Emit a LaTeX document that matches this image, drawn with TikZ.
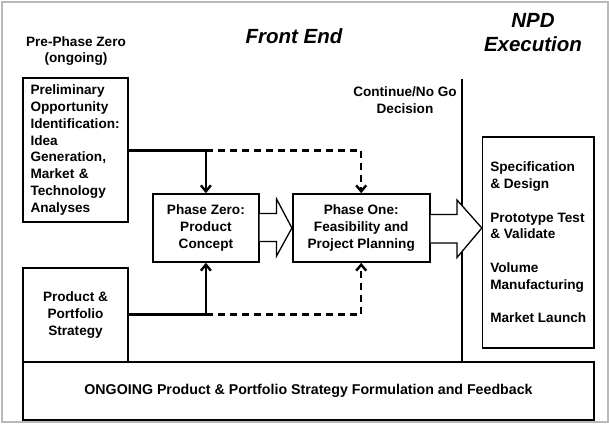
\documentclass[tikz,border=0pt]{standalone}
\usepackage{fontspec}
\setmainfont{Liberation Sans}
\usetikzlibrary{arrows.meta,calc}
\begin{document}
\begin{tikzpicture}[x=1pt,y=-1pt,
  every node/.style={font=\fontsize{13.6}{16.8}\selectfont\bfseries},
  box/.style={draw, line width=1.6pt, inner sep=0pt, align=center},
  lbox/.style={draw, line width=1.6pt, inner xsep=7.5pt, inner ysep=0pt, align=left},
  head/.style={font=\fontsize{20.5}{24}\selectfont\bfseries\itshape, align=center},
  sub/.style={align=center},
  conn/.style={line width=2.4pt, -{Straight Barb[length=6pt,width=10pt]}},
  dconn/.style={conn, dash pattern=on 7pt off 5pt},
  blockarrow/.style={draw, fill=white, line width=1.3pt, line join=miter}
]
\useasboundingbox (0,0) rectangle (609,423);
\draw[gray!55, line width=2pt] (1.5,1.5) rectangle (607.5,421.5);

% headings
\node[sub] (pre) at (76,51) {Pre-Phase Zero\\(ongoing)};
\node[head] (fe) at (294,36) {Front End};
\node[head] (npd) at (533,33) {NPD\\Execution};
\node[sub] (cng) at (405,100.5) {Continue/No Go\\Decision};

% boxes
\node[lbox, minimum width=105pt, minimum height=144pt, text width=90pt] (prelim) at (75.5,150)
  {Preliminary\\Opportunity\\Identification:\\Idea\\Generation,\\Market \&\\Technology\\Analyses};
\node[box, minimum width=105pt, minimum height=94pt] (strat) at (75.5,315)
  {Product \&\\Portfolio\\Strategy};
\node[box, minimum width=105.7pt, minimum height=68pt] (pz) at (205.9,228)
  {Phase Zero:\\Product\\Concept};
\node[box, minimum width=137pt, minimum height=68pt] (p1) at (361.2,228)
  {Phase One:\\Feasibility and\\Project Planning};
\node[draw, line width=1.6pt, inner sep=0pt, align=left, minimum width=111.3pt, minimum height=211pt] (exec) at (538.3,242.5)
  {Specification\\\& Design\\[16.8pt]Prototype Test\\\& Validate\\[16.8pt]Volume\\Manufacturing\\[16.8pt]Market Launch};
\node[box, minimum width=571pt, minimum height=58pt, font=\fontsize{14.2}{16}\selectfont\bfseries] (ongo) at (308.5,391)
  {ONGOING Product \& Portfolio Strategy Formulation and Feedback};

% decision line
\coordinate (dtop) at (462,78.5);
\draw[line width=2.6pt] (dtop) -- (dtop |- ongo.north);

% connectors
\coordinate (j1) at (pz.north |- 0,150.5);
\coordinate (j2) at (pz.south |- 0,314.5);
\draw[conn] (prelim.east |- j1) -- (j1) -- (pz.north);
\draw[conn] (strat.east |- j2) -- (j2) -- (pz.south);
\draw[dconn] (j1) -- (p1.north |- j1) -- (p1.north);
\draw[dconn] (j2) -- (p1.south |- j2) -- (p1.south);

% block arrows
\draw[blockarrow] ($(pz.east)+(0,-14.5)$) -- ($(pz.east)+(17,-14.5)$) -- ($(pz.east)+(17,-29)$)
  -- (p1.west) -- ($(pz.east)+(17,28)$) -- ($(pz.east)+(17,13.5)$) -- ($(pz.east)+(0,13.5)$);
\draw[blockarrow] ($(p1.east)+(0,-13.5)$) -- ($(p1.east)+(26.5,-13.5)$) -- ($(p1.east)+(26.5,-28)$)
  -- (exec.west |- p1.east) -- ($(p1.east)+(26.5,29.5)$) -- ($(p1.east)+(26.5,15)$) -- ($(p1.east)+(0,15)$);
\end{tikzpicture}
\end{document}
